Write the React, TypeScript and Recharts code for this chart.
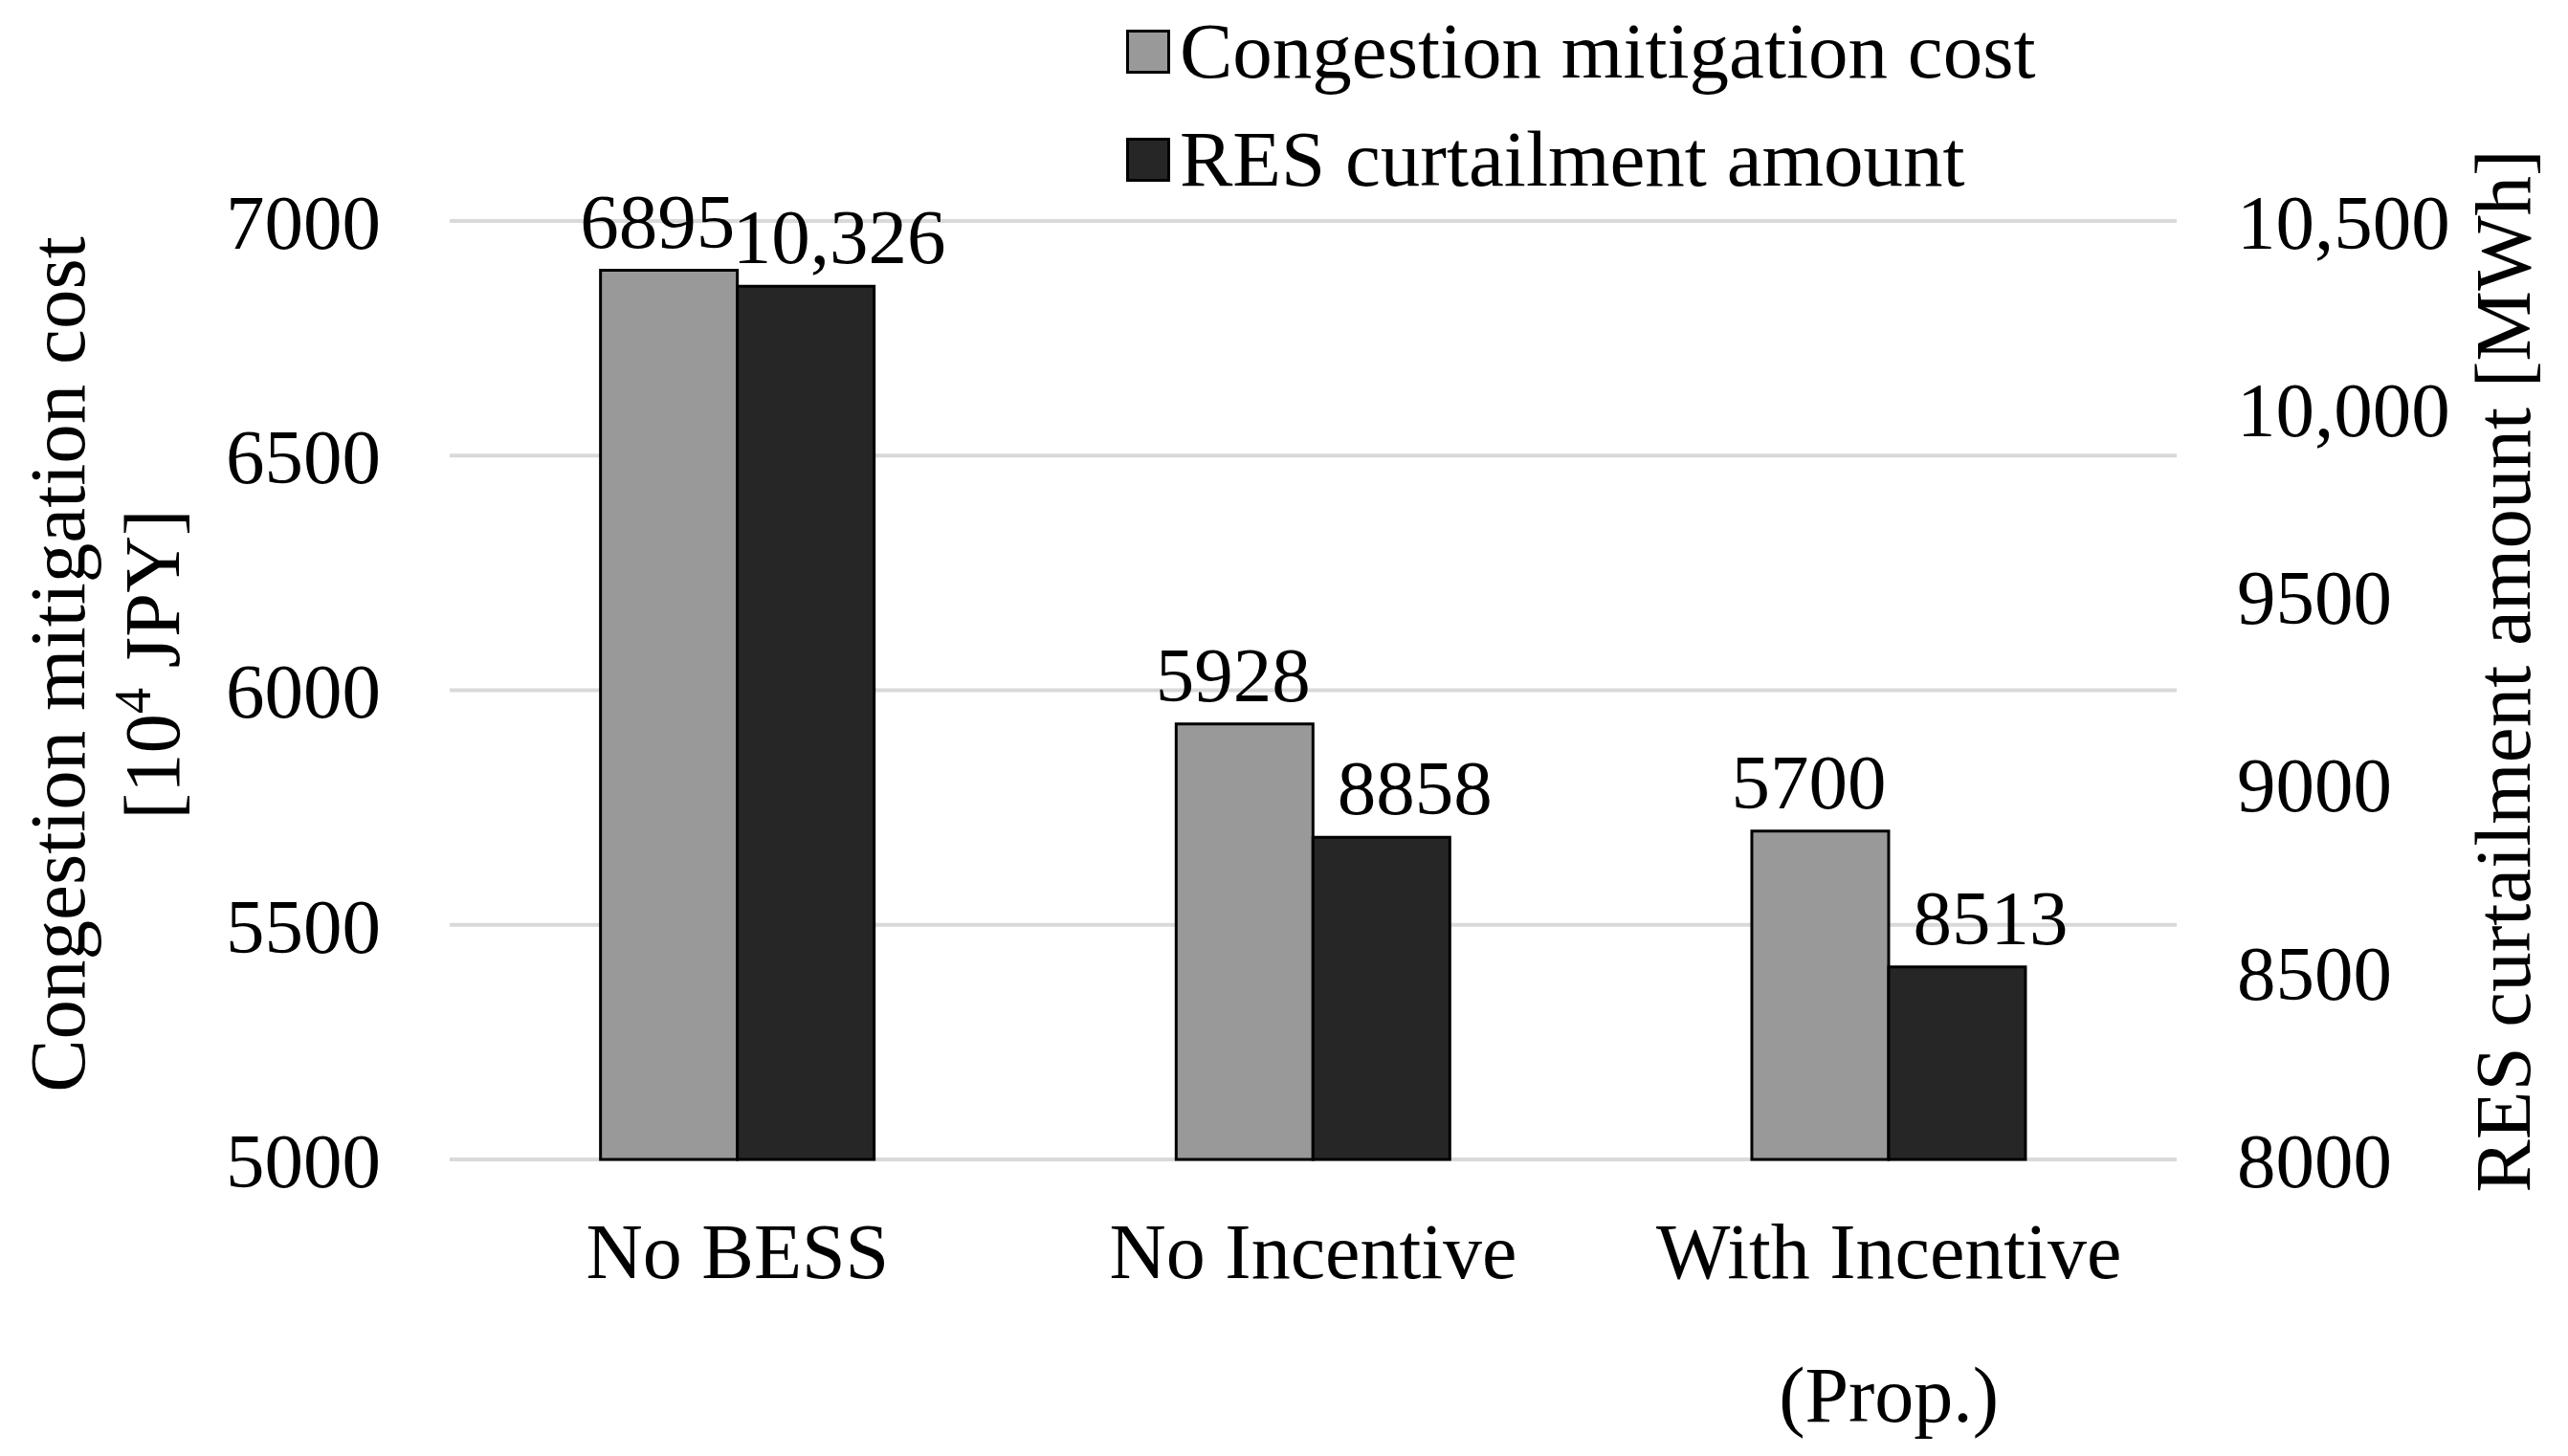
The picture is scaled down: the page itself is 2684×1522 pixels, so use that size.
import { BarChart, Bar, XAxis, YAxis, CartesianGrid, Legend, LabelList, Label } from 'recharts';

const categories = ['No BESS', 'No Incentive', 'With Incentive\n(Prop.)'];
const mitigationCost = [6895, 5928, 5700];
const curtailmentAmount = [10326, 8858, 8513];
const costTicks = [5000, 5500, 6000, 6500, 7000];
const curtailmentTicks = [8000, 8500, 9000, 9500, 10000, 10500];

const data = categories.map((name, i) => ({
  name,
  cost: mitigationCost[i],
  curtailment: curtailmentAmount[i],
}));

const FONT = "'Liberation Serif', 'Times New Roman', serif";
const GRAY = '#999999';
const DARK = '#262626';

// Excel style: comma only for five digit numbers
const fmt = (v: number) => (v >= 10000 ? v.toLocaleString('en-US') : String(v));

const CategoryTick = (props: any) => {
  const { x, y, payload } = props;
  const lines = String(payload.value).split('\n');
  return (
    <g transform={`translate(${x},${y})`}>
      {lines.map((line, i) => (
        <text key={i} x={0} y={124 + i * 150} textAnchor="middle" fill="#000" fontSize={82} fontFamily={FONT}>
          {line}
        </text>
      ))}
    </g>
  );
};

const barLabel = (dx: number) => (props: any) => {
  const { x, y, width, value } = props;
  return (
    <text x={x + width / 2 + dx} y={y - 24} textAnchor="middle" fill="#000" fontSize={81} fontFamily={FONT}>
      {fmt(Number(value))}
    </text>
  );
};

const LeftTitle = (props: any) => {
  const { x, y, height } = props.viewBox;
  const cy = y + height / 2 - 27;
  const x1 = x + 80;
  const x2 = x + 179;
  return (
    <g>
      <text x={x1} y={cy} textAnchor="middle" transform={`rotate(-90, ${x1}, ${cy})`} fill="#000" fontSize={83} fontFamily={FONT}>
        Congestion mitigation cost
      </text>
      <text x={x2} y={cy} textAnchor="middle" transform={`rotate(-90, ${x2}, ${cy})`} fill="#000" fontSize={83} fontFamily={FONT}>
        <tspan>[10</tspan>
        <tspan dy={-30} fontSize={54}>4</tspan>
        <tspan dy={30}> JPY]</tspan>
      </text>
    </g>
  );
};

const RightTitle = (props: any) => {
  const { x, y, height } = props.viewBox;
  const cy = y + height / 2 - 20;
  const tx = x + 369;
  return (
    <text x={tx} y={cy} textAnchor="middle" transform={`rotate(-90, ${tx}, ${cy})`} fill="#000" fontSize={83} fontFamily={FONT}>
      RES curtailment amount [MWh]
    </text>
  );
};

const LegendContent = (props: any) => {
  const { payload } = props;
  return (
    <div style={{ fontFamily: FONT, fontSize: 83, color: '#000' }}>
      {(payload || []).map((entry: any) => (
        <div key={entry.value} style={{ display: 'flex', alignItems: 'center', height: 113, lineHeight: 1 }}>
          <span
            style={{
              display: 'inline-block',
              width: 40,
              height: 40,
              background: entry.color,
              border: '3px solid #000',
              marginRight: 10,
            }}
          />
          <span style={{ whiteSpace: 'nowrap' }}>{entry.value}</span>
        </div>
      ))}
    </div>
  );
};

export default function App() {
  return (
    <BarChart
      width={2668}
      height={1506}
      data={data}
      margin={{ top: 223, right: 0, bottom: 0, left: 0 }}
      barCategoryGap="26.2%"
      barGap={0}
    >
      <CartesianGrid yAxisId="left" vertical={false} stroke="#d9d9d9" strokeWidth={4} />
      <XAxis
        dataKey="name"
        height={302}
        axisLine={false}
        tickLine={false}
        tickSize={0}
        tickMargin={0}
        interval={0}
        tick={<CategoryTick />}
      />
      <YAxis
        yAxisId="left"
        orientation="left"
        width={462}
        domain={[5000, 7000]}
        ticks={costTicks}
        axisLine={false}
        tickLine={false}
        tickSize={0}
        tickMargin={72}
        tick={{ fill: '#000', fontSize: 81, fontFamily: FONT }}
      >
        <Label content={<LeftTitle />} />
      </YAxis>
      <YAxis
        yAxisId="right"
        orientation="right"
        width={401}
        domain={[8000, 10500]}
        ticks={curtailmentTicks}
        axisLine={false}
        tickLine={false}
        tickSize={0}
        tickMargin={63}
        tickFormatter={fmt}
        tick={{ fill: '#000', fontSize: 81, fontFamily: FONT }}
      >
        <Label content={<RightTitle />} />
      </YAxis>
      <Legend
        layout="vertical"
        align="center"
        verticalAlign="middle"
        wrapperStyle={{ left: 1169, top: -11, width: 1150 }}
        content={<LegendContent />}
      />
      <Bar
        yAxisId="left"
        dataKey="cost"
        name="Congestion mitigation cost"
        fill={GRAY}
        stroke="#000"
        strokeWidth={3}
        isAnimationActive={false}
      >
        <LabelList dataKey="cost" content={barLabel(-12)} />
      </Bar>
      <Bar
        yAxisId="right"
        dataKey="curtailment"
        name="RES curtailment amount"
        fill={DARK}
        stroke="#000"
        strokeWidth={3}
        isAnimationActive={false}
      >
        <LabelList dataKey="curtailment" content={barLabel(35)} />
      </Bar>
    </BarChart>
  );
}
